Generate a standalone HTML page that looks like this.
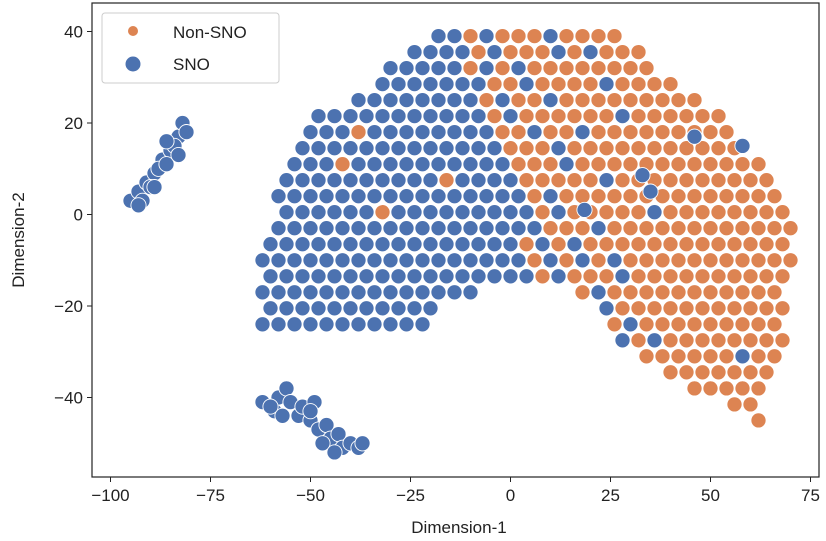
<!DOCTYPE html>
<html><head><meta charset="utf-8"><style>
html,body{margin:0;padding:0;background:#fff;}
svg{display:block;font-family:"Liberation Sans","DejaVu Sans",sans-serif;}
</style></head><body>
<svg id="chart" width="826" height="541" viewBox="0 0 826 541">
<rect x="92" y="3" width="727" height="474" fill="#fff" stroke="none"/>
<g id="marks"></g>
<rect x="92" y="3" width="727" height="474" fill="none" stroke="#222" stroke-width="1.2"/>
<g id="xaxis"></g>
<g id="yaxis"></g>
<text x="459" y="533" font-size="17" text-anchor="middle" fill="#222">Dimension-1</text>
<text x="0" y="0" font-size="17" text-anchor="middle" fill="#222" transform="translate(24,240) rotate(-90)">Dimension-2</text>
<g>
<rect x="102" y="13" width="177" height="70" rx="3" fill="#fff" fill-opacity="0.85" stroke="#ccc"/>
<g>
<circle cx="133" cy="31" r="5" fill="#dd8452"/>
<text x="173" y="38" font-size="17" fill="#222">Non-SNO</text>
</g>
<g>
<circle cx="133" cy="64" r="7.5" fill="#4c72b0"/>
<text x="173" y="70" font-size="17" fill="#222">SNO</text>
</g>
</g>
</svg>
<script>
const xTicks = [-100,-75,-50,-25,0,25,50,75];
const yTicks = [-40,-20,0,20,40];
const rowY = [39,35.5,32,28.5,25,21.5,18,14.5,11,7.5,4,0.5,-3,-6.5,-10,-13.5,-17,-20.5,-24,-27.5,-31,-34.5,-38,-41.5,-45];
const snoRowX = [
[-18,-14,-6,10],
[-24,-20,-16,-12,-4,12,20],
[-30,-26,-22,-18,-14,-6,2],
[-32,-28,-24,-20,-16,-12,-8,4,24],
[-38,-34,-30,-26,-22,-18,-14,-10,-2,10],
[-48,-44,-40,-36,-32,-28,-24,-20,-16,-12,-8,0,28],
[-50,-46,-42,-34,-30,-26,-22,-18,-14,-10,-6,6,18],
[-52,-48,-44,-40,-36,-32,-28,-24,-20,-16,-12,-8,-4,12],
[-54,-50,-46,-38,-34,-30,-26,-22,-18,-14,-10,-6,-2,14],
[-56,-52,-48,-44,-40,-36,-32,-28,-24,-20,-12,-8,-4,0,24],
[-58,-54,-50,-46,-42,-38,-34,-30,-26,-22,-18,-14,-10,-6,-2,2,10],
[-56,-52,-48,-44,-40,-36,-28,-24,-20,-16,-12,-8,-4,0,4,12,36],
[-58,-54,-50,-46,-42,-38,-34,-30,-26,-22,-18,-14,-10,-6,-2,2,6,22],
[-60,-56,-52,-48,-44,-40,-36,-32,-28,-24,-20,-16,-12,-8,-4,0,8,16],
[-62,-58,-54,-50,-46,-42,-38,-34,-30,-26,-22,-18,-14,-10,-6,-2,2,10,18,26],
[-60,-56,-52,-48,-44,-40,-36,-32,-28,-24,-20,-16,-12,-8,-4,0,4,12,28],
[-62,-58,-54,-50,-46,-42,-38,-34,-30,-26,-22,-18,-14,-10,22],
[-60,-56,-52,-48,-44,-40,-36,-32,-28,-24,-20,24],
[-62,-58,-54,-50,-46,-42,-38,-34,-30,-26,-22,30],
[28,36],
[58],
[],[],[],[]
];
const nonRowX = [
[-10,-2,2,6,14,18,22,26],
[-8,0,4,8,16,24,28,32],
[-10,-2,6,10,14,18,22,26,30,34],
[-4,0,8,12,16,20,28,32,36,40],
[-6,2,6,14,18,22,26,30,34,38,42,46],
[-4,4,8,12,16,20,24,32,36,40,44,48,52],
[-38,-2,2,10,14,22,26,30,34,38,42,46,50,54],
[0,4,8,16,20,24,28,32,36,40,44,48,52,56],
[-42,2,6,10,18,22,26,30,34,38,42,46,50,54,58,62],
[-16,4,8,12,16,20,28,32,36,40,44,48,52,56,60,64],
[6,14,18,22,26,30,34,38,42,46,50,54,58,62,66],
[-32,8,16,20,24,28,32,40,44,48,52,56,60,64,68],
[10,14,18,26,30,34,38,42,46,50,54,58,62,66,70],
[4,12,20,24,28,32,36,40,44,48,52,56,60,64,68],
[6,14,22,30,34,38,42,46,50,54,58,62,66,70],
[8,16,20,24,32,36,40,44,48,52,56,60,64,68],
[18,26,30,34,38,42,46,50,54,58,62,66],
[28,32,36,40,44,48,52,56,60,64,68],
[26,34,38,42,46,50,54,58,62,66],
[32,40,44,48,52,56,60,64,68],
[34,38,42,46,50,54,62,66],
[40,44,48,52,56,60,64],
[46,50,54,58,62],
[56,60],
[62]
];
const snoExtraX = [46,58,33,35,18.5,-95,-93,-91,-89,-87,-85,-83,-82,-92,-90,-88,-86,-84,-83,-86,-89,-93,-81,
 -62,-59,-58,-56,-55,-53,-52,-50,-49,-48,-46,-45,-43,-42,-40,-38,-37,-47,-44,-50,-57,-60];
const snoExtraY = [17,15,8.6,5,1,3,5,7,9,12,14,17,20,3,6,10,11,15,13,16,6,2,18,
 -41,-43,-40,-38,-41,-44,-42,-45,-41,-47,-46,-49,-48,-51,-50,-51,-50,-50,-52,-43,-44,-42];

const NS='http://www.w3.org/2000/svg';
const L=92,R=819,T=3,B=477;
function xs(v){return 510.5+v*4.0;}
function ys(v){return 214.5-v*4.575;}
const marks=document.getElementById('marks');
function dot(x,y,color,name){
  const c=document.createElementNS(NS,'circle');
  c.setAttribute('cx',xs(x).toFixed(1));
  c.setAttribute('cy',ys(y).toFixed(1));
  c.setAttribute('r',7.6);
  c.setAttribute('fill',color);
  c.setAttribute('stroke','#fff');
  c.setAttribute('stroke-width','0.9');
  
  
  marks.appendChild(c);
}
rowY.forEach((y,i)=>{
  snoRowX[i].forEach(x=>dot(x,y,'#4c72b0','sno-point'));
  nonRowX[i].forEach(x=>dot(x,y,'#dd8452','non-sno-point'));
});
snoExtraX.forEach((x,i)=>dot(x,snoExtraY[i],'#4c72b0','sno-point'));

const xa=document.getElementById('xaxis');
xTicks.forEach(t=>{
  const px=xs(t);
  const l=document.createElementNS(NS,'line');
  l.setAttribute('x1',px);l.setAttribute('x2',px);l.setAttribute('y1',B);l.setAttribute('y2',B+5);
  l.setAttribute('stroke','#222');
  
  
  xa.appendChild(l);
  const tx=document.createElementNS(NS,'text');
  tx.setAttribute('x',px);tx.setAttribute('y',B+24);
  tx.setAttribute('text-anchor','middle');tx.setAttribute('font-size','17');tx.setAttribute('fill','#222');
  tx.textContent=(t<0?'\u2212'+(-t):String(t));
  
  
  xa.appendChild(tx);
});
const ya=document.getElementById('yaxis');
yTicks.forEach(t=>{
  const py=ys(t);
  const l=document.createElementNS(NS,'line');
  l.setAttribute('x1',L-5);l.setAttribute('x2',L);l.setAttribute('y1',py);l.setAttribute('y2',py);
  l.setAttribute('stroke','#222');
  
  
  ya.appendChild(l);
  const tx=document.createElementNS(NS,'text');
  tx.setAttribute('x',L-9);tx.setAttribute('y',py+6);
  tx.setAttribute('text-anchor','end');tx.setAttribute('font-size','17');tx.setAttribute('fill','#222');
  tx.textContent=(t<0?'\u2212'+(-t):String(t));
  
  
  ya.appendChild(tx);
});
</script>
</body></html>
